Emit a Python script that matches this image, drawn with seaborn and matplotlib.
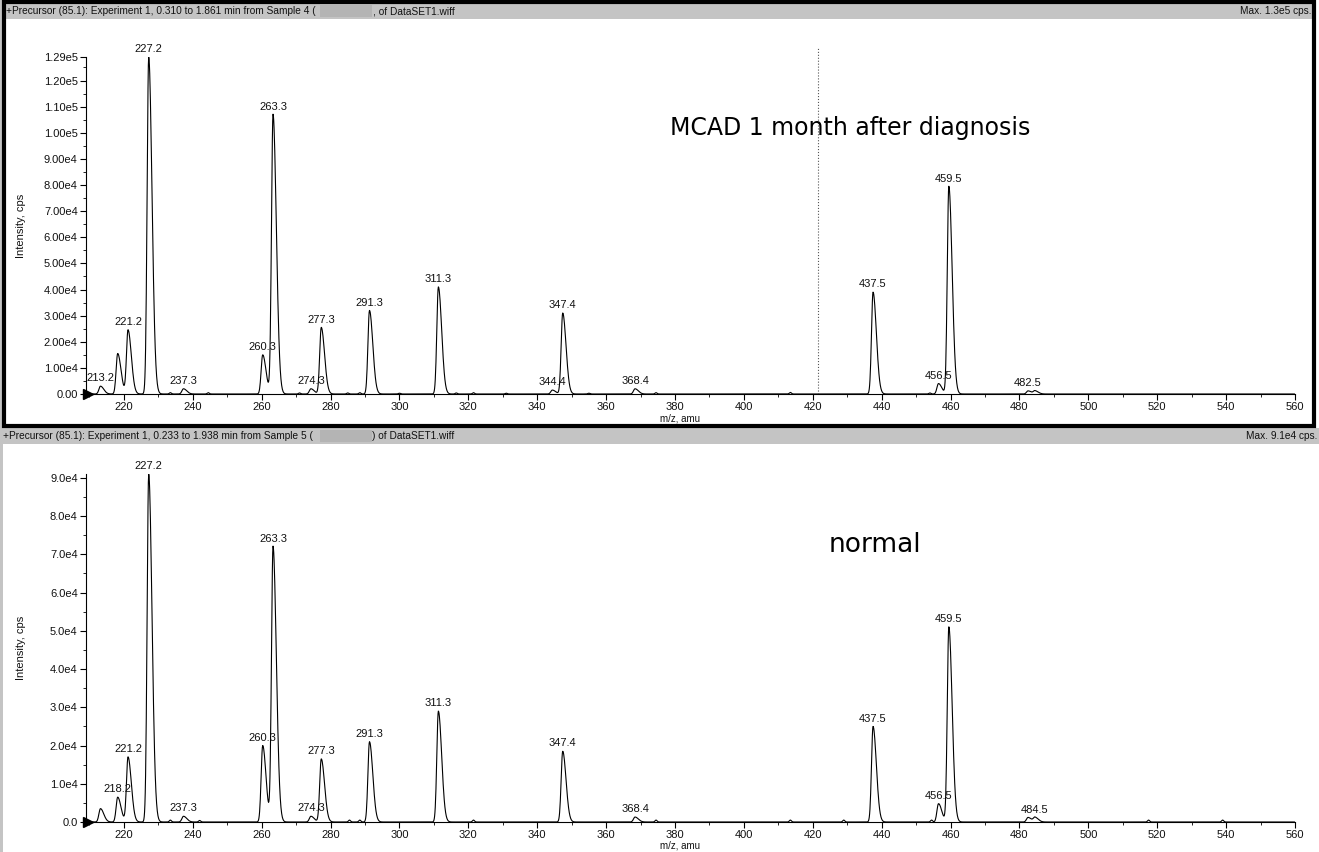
import numpy as np
import pandas as pd
import matplotlib
matplotlib.use("Agg")
import matplotlib.pyplot as plt
import seaborn as sns
from matplotlib.patches import Rectangle
from matplotlib.ticker import FixedLocator, MultipleLocator

sns.set_theme(style="white")
plt.rcParams['font.family'] = ['Liberation Sans', 'DejaVu Sans']

# ---------------- data ----------------
# Top spectrum: MCAD 1 month after diagnosis
top_mz = [213.2, 218.2, 221.2, 227.2, 237.3, 260.3, 263.3, 274.3, 277.3, 291.3,
          311.3, 344.4, 347.4, 368.4, 437.5, 456.5, 459.5, 482.5, 484.5]
top_int = [3000, 15500, 24500, 129000, 2000, 15000, 107000, 2000, 25500, 32000,
           41000, 1500, 31000, 2000, 39000, 4000, 79500, 1200, 1200]
top_labels = ["213.2", "", "221.2", "227.2", "237.3", "260.3", "263.3", "274.3", "277.3", "291.3",
              "311.3", "344.4", "347.4", "368.4", "437.5", "456.5", "459.5", "482.5", ""]
top_noise_mz = [233.5, 244.5, 271.0, 285.0, 288.5, 300.0, 316.5, 321.5, 331.0, 355.0, 374.5, 413.5, 454.0]
top_noise_int = [500, 500, 400, 400, 500, 300, 400, 500, 300, 300, 500, 600, 400]

# Bottom spectrum: normal
bot_mz = [213.2, 218.2, 221.2, 227.2, 237.3, 260.3, 263.3, 274.3, 277.3, 291.3,
          311.3, 347.4, 368.4, 437.5, 456.5, 459.5, 482.5, 484.5]
bot_int = [3500, 6500, 17000, 91000, 1500, 20000, 72000, 1500, 16500, 21000,
           29000, 18500, 1300, 25000, 4800, 51000, 1200, 1200]
bot_labels = ["", "218.2", "221.2", "227.2", "237.3", "260.3", "263.3", "274.3", "277.3", "291.3",
              "311.3", "347.4", "368.4", "437.5", "456.5", "459.5", "", "484.5"]
bot_noise_mz = [233.5, 242.0, 285.5, 288.5, 321.5, 374.5, 413.5, 429.0, 454.5, 517.5, 539.0]
bot_noise_int = [500, 400, 500, 500, 500, 500, 500, 500, 500, 500, 500]

top_yticks = [0, 10000, 20000, 30000, 40000, 50000, 60000, 70000, 80000, 90000,
              100000, 110000, 120000, 129000]
top_yticklabels = ["0.00", "1.00e4", "2.00e4", "3.00e4", "4.00e4", "5.00e4", "6.00e4", "7.00e4",
                   "8.00e4", "9.00e4", "1.00e5", "1.10e5", "1.20e5", "1.29e5"]
bot_yticks = [0, 10000, 20000, 30000, 40000, 50000, 60000, 70000, 80000, 90000]
bot_yticklabels = ["0.0", "1.0e4", "2.0e4", "3.0e4", "4.0e4", "5.0e4", "6.0e4", "7.0e4",
                   "8.0e4", "9.0e4"]
xticks = list(range(220, 561, 20))

top_header_a = "+Precursor (85.1): Experiment 1, 0.310 to 1.861 min from Sample 4 ("
top_header_b = ", of DataSET1.wiff"
bot_header_a = "+Precursor (85.1): Experiment 1, 0.233 to 1.938 min from Sample 5 ("
bot_header_b = ") of DataSET1.wiff"
top_max = "Max. 1.3e5 cps."
bot_max = "Max. 9.1e4 cps."

# ---------------- profile rendering ----------------
grid = np.arange(209.0, 560.0, 0.1)


def profile(centers, heights, sl=0.45, sr=0.95):
    y = np.zeros_like(grid)
    for c, h in zip(centers, heights):
        d = grid - c
        s = np.where(d < 0, sl, sr)
        y += h * np.exp(-0.5 * (d / s) ** 2)
    return y


W, H = 1319, 852
fig = plt.figure(figsize=(W / 100, H / 100), dpi=100)
fig.patch.set_facecolor("white")

# frames / header bars
fig.patches.append(Rectangle((0, 1 - 446 / H), 3 / W, 446 / H, transform=fig.transFigure,
                             facecolor="#c4c4c4", edgecolor="none", zorder=0))
fig.patches.append(Rectangle((4 / W, 1 - 19 / H), 1310 / W, 16 / H, transform=fig.transFigure,
                             facecolor="#c4c4c4", edgecolor="none", zorder=0))
fig.patches.append(Rectangle((0, 1 - 444 / H), 1, 16 / H, transform=fig.transFigure,
                             facecolor="#c4c4c4", edgecolor="none", zorder=0))
fig.patches.append(Rectangle((0, 0), 3 / W, 1 - 428 / H, transform=fig.transFigure,
                             facecolor="#c4c4c4", edgecolor="none", zorder=0))
fig.patches.append(Rectangle((4 / W, 1 - 426 / H), 1310 / W, 424 / H, transform=fig.transFigure,
                             facecolor="none", edgecolor="black", lw=3.0, zorder=5))
# redacted patches
fig.patches.append(Rectangle((320 / W, 1 - 17 / H), 52 / W, 12 / H, transform=fig.transFigure,
                             facecolor="#b4b4b4", edgecolor="none", zorder=1))
fig.patches.append(Rectangle((320 / W, 1 - 442 / H), 52 / W, 12 / H, transform=fig.transFigure,
                             facecolor="#b4b4b4", edgecolor="none", zorder=1))

hfs = 7.3
fig.text(6 / W, 1 - 11 / H, top_header_a, fontsize=hfs, va="center", ha="left", color="#111111")
fig.text(373 / W, 1 - 11 / H, top_header_b, fontsize=hfs, va="center", ha="left", color="#111111")
fig.text(1311 / W, 1 - 11 / H, top_max, fontsize=hfs, va="center", ha="right", color="#111111")
fig.text(3 / W, 1 - 436 / H, bot_header_a, fontsize=hfs, va="center", ha="left", color="#111111")
fig.text(372 / W, 1 - 436 / H, bot_header_b, fontsize=hfs, va="center", ha="left", color="#111111")
fig.text(1317 / W, 1 - 436 / H, bot_max, fontsize=hfs, va="center", ha="right", color="#111111")

ax_top = fig.add_axes([86 / W, (H - 394) / H, 1209 / W, 337 / H])
ax_bot = fig.add_axes([86 / W, (H - 822) / H, 1209 / W, 348 / H])

panels = [
    (ax_top, top_mz, top_int, top_labels, top_noise_mz, top_noise_int, 129000,
     top_yticks, top_yticklabels),
    (ax_bot, bot_mz, bot_int, bot_labels, bot_noise_mz, bot_noise_int, 91000,
     bot_yticks, bot_yticklabels),
]

for ax, mz, inten, labels, nmz, nint, ymax, yt, ytl in panels:
    y = profile(mz, inten) + profile(nmz, nint, 0.3, 0.3)
    df = pd.DataFrame({"mz": grid, "intensity": y})
    sns.lineplot(data=df, x="mz", y="intensity", ax=ax, color="black", lw=0.8,
                 estimator=None, sort=False)
    ax.set_xlim(209, 560)
    ax.set_ylim(0, ymax)
    ax.set_facecolor("none")
    for s in ["top", "right"]:
        ax.spines[s].set_visible(False)
    for s in ["left", "bottom"]:
        ax.spines[s].set_color("black")
        ax.spines[s].set_linewidth(0.8)
    ax.xaxis.set_major_locator(FixedLocator(xticks))
    ax.xaxis.set_minor_locator(MultipleLocator(10))
    ax.yaxis.set_major_locator(FixedLocator(yt))
    ax.set_yticklabels(ytl)
    ax.yaxis.set_minor_locator(MultipleLocator(5000))
    ax.tick_params(axis="both", which="major", direction="out", length=4, width=0.8,
                   color="black", labelsize=8, labelcolor="#111111", pad=2,
                   bottom=True, left=True)
    ax.tick_params(axis="both", which="minor", direction="out", length=2, width=0.6,
                   color="black", bottom=True, left=True)
    ax.set_xlabel("m/z, amu", fontsize=7, color="#111111")
    ax.set_ylabel("Intensity, cps", fontsize=8, color="#111111")
    ax.yaxis.set_label_coords(-0.05, 0.5)
    for c, h, lab in zip(mz, inten, labels):
        if lab:
            ax.annotate(lab, (c, h), xytext=(0, 2), textcoords="offset points",
                        ha="center", va="bottom", fontsize=8, color="#111111",
                        annotation_clip=False)
    ax.plot([209.6], [0], marker=">", markersize=7, color="black", clip_on=False)

ax_top.xaxis.set_label_coords(0.491, -0.058)
ax_bot.xaxis.set_label_coords(0.491, -0.054)

ax_top.axvline(421.5, ymin=0, ymax=1.03, color="#555555", lw=0.8, ls=":", clip_on=False)

ax_top.text(378.5, 102000, "MCAD 1 month after diagnosis", fontsize=17, ha="left",
            va="center", color="black", family=["DejaVu Sans"])
ax_bot.text(424.5, 72500, "normal", fontsize=19, ha="left", va="center", color="black",
            family=["DejaVu Sans"])

fig.savefig("out.png", dpi=100)
